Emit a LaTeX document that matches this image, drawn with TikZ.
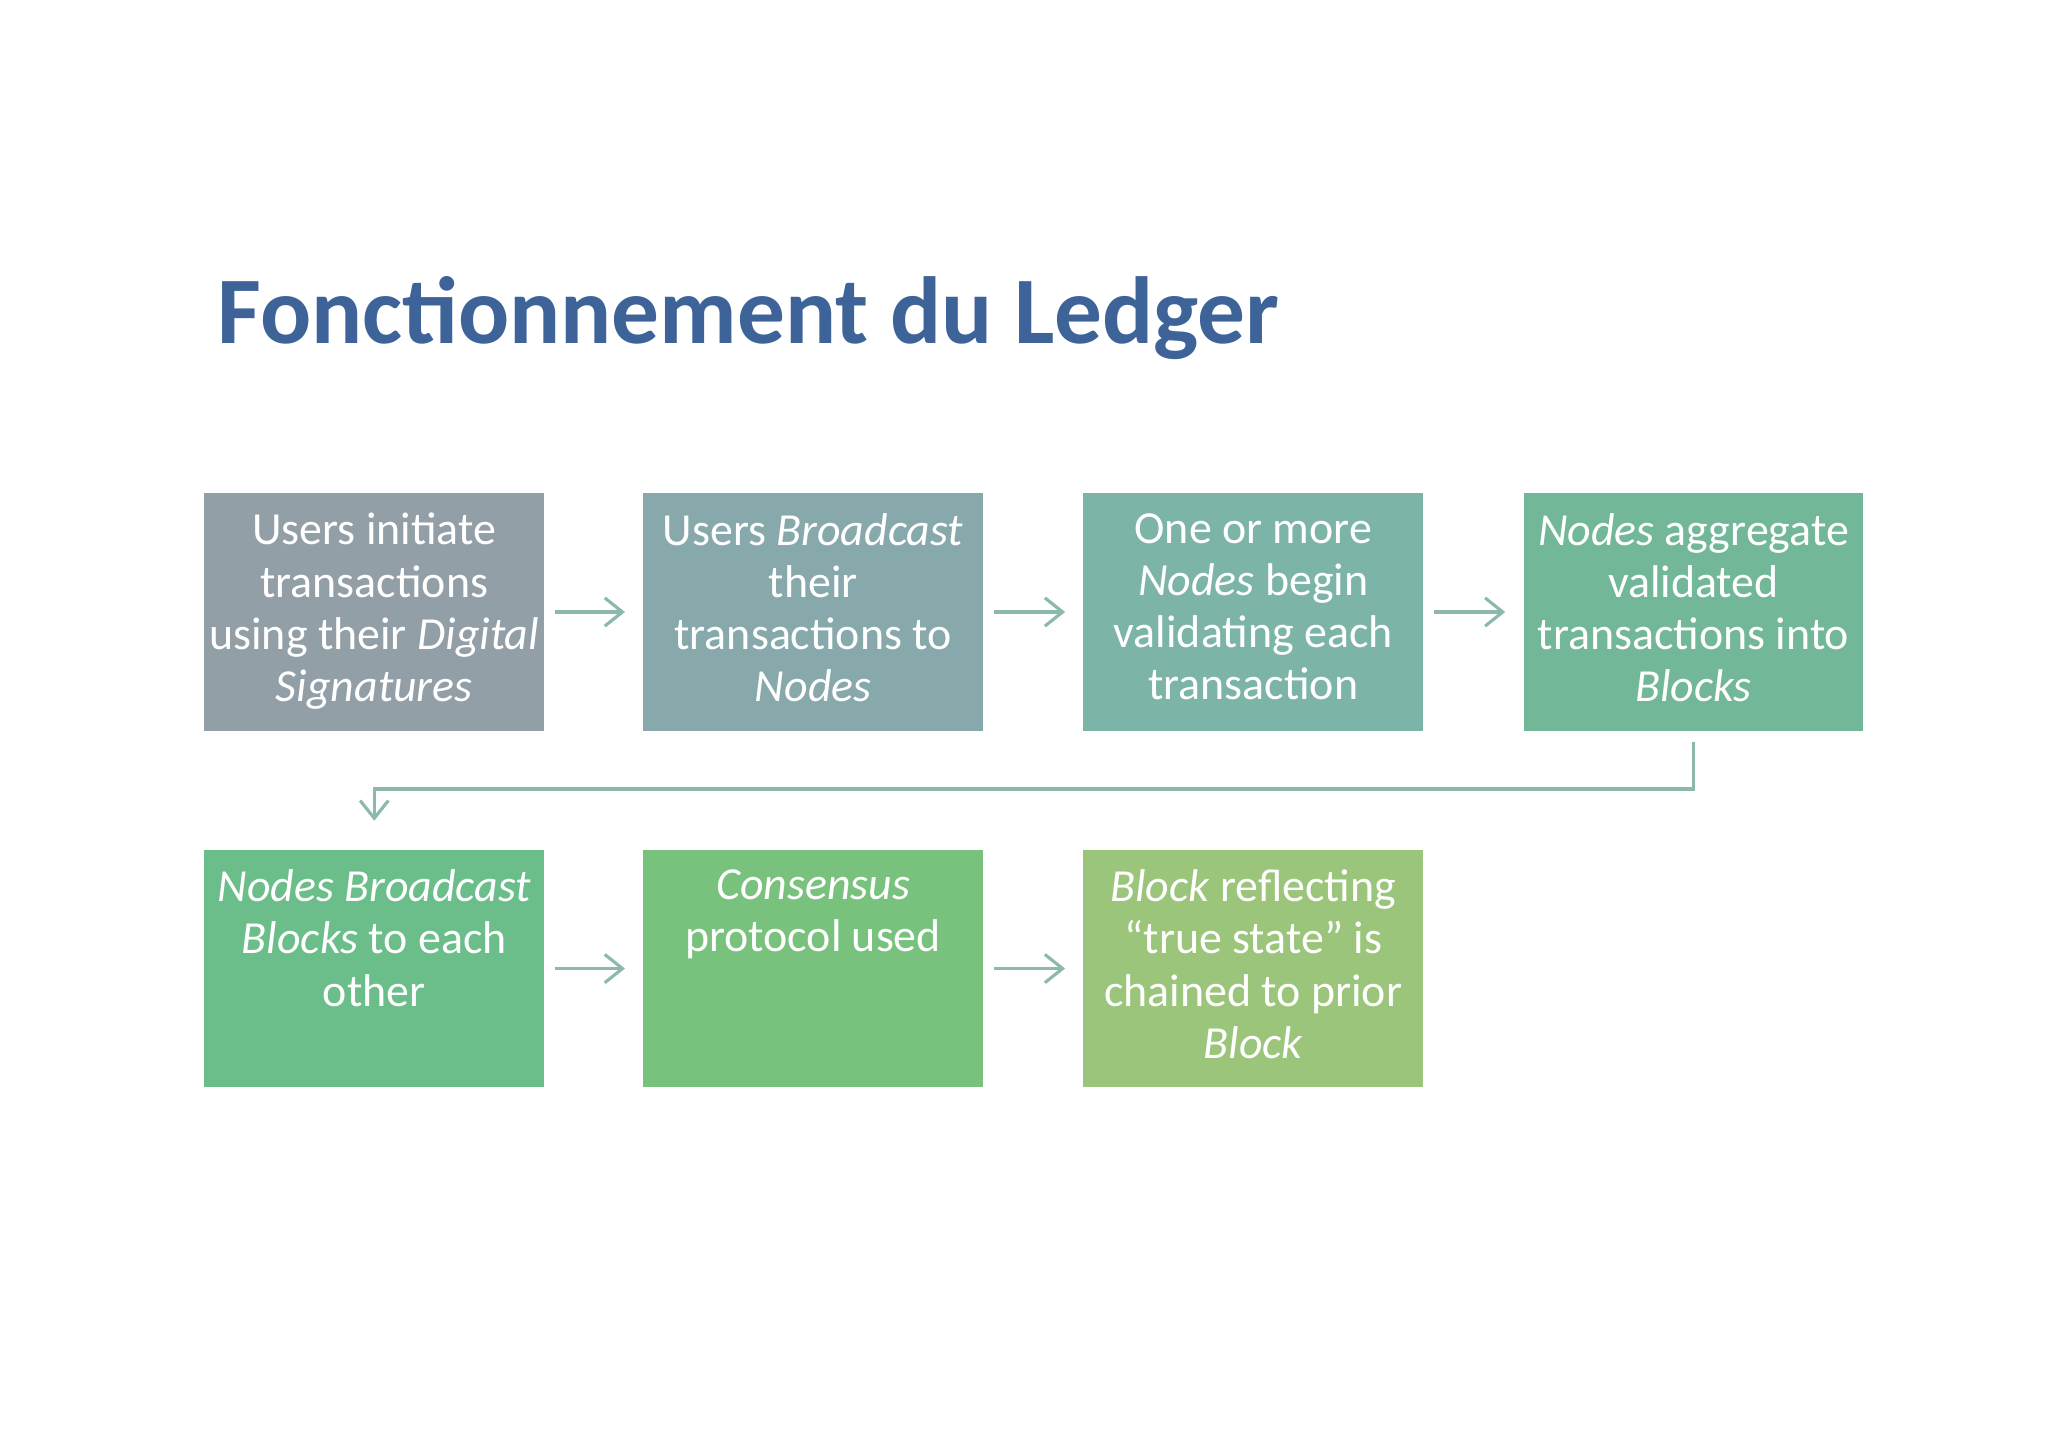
\documentclass[tikz,border=0pt]{standalone}
\usepackage{fontspec}
\setmainfont{Carlito}
\usetikzlibrary{arrows.meta}
\definecolor{tcol}{HTML}{3D6399}
\definecolor{c1}{HTML}{939FA6}
\definecolor{c2}{HTML}{87A9AC}
\definecolor{c3}{HTML}{7DB4A8}
\definecolor{c4}{HTML}{72B798}
\definecolor{c5}{HTML}{6BBE89}
\definecolor{c6}{HTML}{78C27D}
\definecolor{c7}{HTML}{9AC57A}
\definecolor{lc}{HTML}{8CB8AE}
\begin{document}
\begin{tikzpicture}[x=0.013cm,y=-0.013cm,
 box/.style={minimum width=260*0.013cm,minimum height=182*0.013cm,inner sep=0pt,anchor=north west},
 txt/.style={anchor=north,align=center,text=white,font=\fontsize{13}{14.8}\selectfont,inner sep=0pt,yshift=-0.2cm},
 conn/.style={draw=lc,line width=0.9pt,-{Straight Barb[length=5pt,width=8pt]}}]
\useasboundingbox (0,0) rectangle (1568,1108.6);
\node[anchor=base west,text=tcol,font=\fontsize{27}{32}\selectfont\bfseries,inner sep=0pt] (title) at (166,263) {Fonctionnement du Ledger};
\node[box,fill=c1] (b1) at (156,377) {};
\node[box,fill=c2] (b2) at (492,377) {};
\node[box,fill=c3] (b3) at (829,377) {};
\node[box,fill=c4] (b4) at (1166,377) {};
\node[box,fill=c5] (b5) at (156,650) {};
\node[box,fill=c6] (b6) at (492,650) {};
\node[box,fill=c7] (b7) at (829,650) {};
\node[txt] (t1) at (b1.north) {Users initiate\\transactions\\using their \emph{Digital}\\\emph{Signatures}};
\node[txt] (t2) at (b2.north) {Users \emph{Broadcast}\\their\\transactions to\\\emph{Nodes}};
\node[txt] (t3) at (b3.north) {One or more\\\emph{Nodes} begin\\validating each\\transaction};
\node[txt] (t4) at (b4.north) {\emph{Nodes} aggregate\\validated\\transactions into\\\emph{Blocks}};
\node[txt] (t5) at (b5.north) {\emph{Nodes Broadcast}\\\emph{Blocks} to each\\other};
\node[txt] (t6) at (b6.north) {\emph{Consensus}\\protocol used};
\node[txt] (t7) at (b7.north) {\emph{Block} reflecting\\“true state” is\\chained to prior\\\emph{Block}};
\draw[conn] ([xshift=3pt]b1.east) -- ([xshift=-5pt]b2.west);
\draw[conn] ([xshift=3pt]b2.east) -- ([xshift=-5pt]b3.west);
\draw[conn] ([xshift=3pt]b3.east) -- ([xshift=-5pt]b4.west);
\draw[conn] ([xshift=3pt]b5.east) -- ([xshift=-5pt]b6.west);
\draw[conn] ([xshift=3pt]b6.east) -- ([xshift=-5pt]b7.west);
\coordinate (m) at (0,604);
\draw[conn] ([yshift=-3pt]b4.south) |- (m -| b5.north) -- ([yshift=8pt]b5.north);
\end{tikzpicture}
\end{document}
